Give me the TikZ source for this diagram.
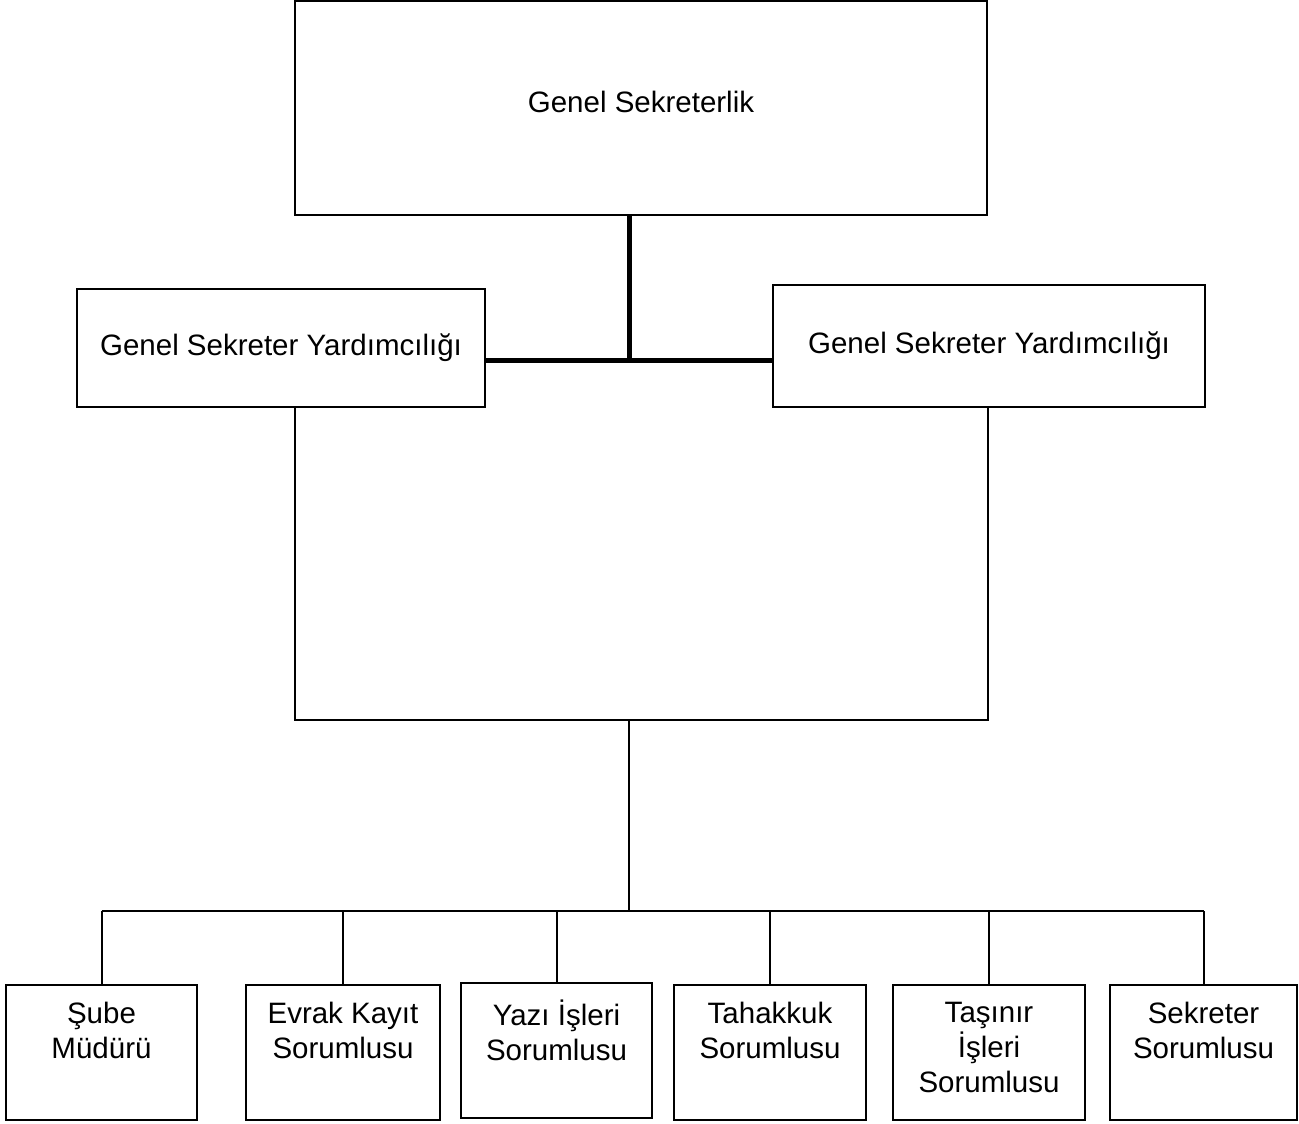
\documentclass[tikz,border=0pt]{standalone}
\usepackage{fontspec}
\setmainfont{Liberation Sans}
\usetikzlibrary{positioning,calc}
\tikzset{
	unit/.style={draw=black,line width=2pt,fill=white,inner sep=0pt},
	txt/.style={font=\fontsize{29.5}{35}\selectfont,align=center,inner sep=0pt},
	link/.style={draw=black,line width=2pt},
	mainlink/.style={draw=black,line width=5pt},
}
\begin{document}
\begin{tikzpicture}[x=1pt,y=-1pt]
\useasboundingbox (0,0) rectangle (1299,1124);
% top levels
\node[unit,txt,text depth=12pt,minimum width=692pt,minimum height=214pt] (gs) at (641,108) {Genel Sekreterlik};
\node[unit,txt,minimum width=408pt,minimum height=118pt] (gsy1) at (281,348) {Genel Sekreter Yardımcılığı};
\node[unit,txt,minimum width=432pt,minimum height=122pt] (gsy2) at (989,346) {Genel Sekreter Yardımcılığı};
% bottom level
\foreach \n/\cx/\cy/\bw/\lab in {1/101.5/1052.5/191/{Şube\\Müdürü},
	2/343/1052.5/194/{Evrak Kayıt\\Sorumlusu},
	3/556.5/1050.5/191/{Yazı İşleri\\Sorumlusu},
	4/770/1052.5/192/{Tahakkuk\\Sorumlusu},
	5/989/1052.5/192/{Taşınır\\İşleri\\Sorumlusu},
	6/1203.5/1052.5/187/{Sekreter\\Sorumlusu}}{
	\node[unit,minimum width=\bw pt,minimum height=135pt] (b\n) at (\cx,\cy) {};
	\node[txt,anchor=north,execute at begin node=\strut] (t\n) at ($(b\n.north)+(0,18)$) {\lab};
}
\coordinate (j1) at (629,360);
\coordinate (c1) at (295,720);
\coordinate (c2) at (988,720);
\coordinate (j2) at (629,720);
\coordinate (j3) at (629,911);
\draw[mainlink] (gs.south -| j1) -- (j1);
\draw[mainlink] (gsy1.east |- j1) -- (gsy2.west |- j1);
\draw[link] (gsy1.south -| c1) -- (c1) -- (c2) -- (gsy2.south -| c2);
\draw[link] (j2) -- (j3);
\draw[link] (b1.north |- j3) -- (b6.north |- j3);
\foreach \n in {1,...,6}
	\draw[link] (b\n.north |- j3) -- (b\n.north);
\end{tikzpicture}
\end{document}
